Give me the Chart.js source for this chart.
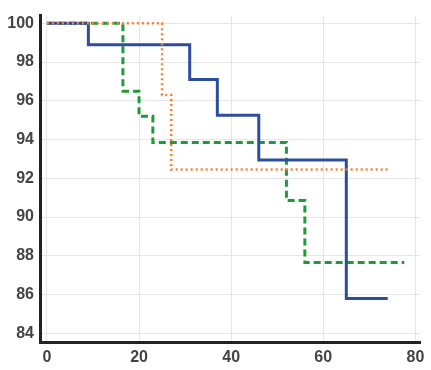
<!DOCTYPE html>
<html>
<head>
<meta charset="utf-8">
<script src="https://cdn.jsdelivr.net/npm/chart.js@4/dist/chart.umd.min.js"></script>
<style>
  html, body { margin: 0; padding: 0; background: #fff; }
  #wrap { width: 431px; height: 370px; }
</style>
</head>
<body>
<div id="wrap"><canvas id="myChart" width="431" height="370"></canvas></div>
<script>
// step curves
var blueX = [0, 9, 31, 37, 46, 65, 74];
var blueY = [100, 98.9, 97.1, 95.25, 92.95, 85.8, 85.8];
var greenX = [0, 16.5, 20, 23, 52, 56, 77.6];
var greenY = [100, 96.5, 95.2, 93.85, 90.85, 87.65, 87.65];
var orangeX = [0, 25, 27, 74];
var orangeY = [100, 96.3, 92.45, 92.45];

var xTicks = [0, 20, 40, 60, 80];
var yTicks = [84, 86, 88, 90, 92, 94, 96, 98, 100];

toPoints = (xs, ys) => xs.map((x, i) => ({ x: x, y: ys[i] }));

var ctx = document.getElementById("myChart").getContext("2d");
var chart = new Chart(ctx, {
  type: "line",
  data: {
    datasets: [
      {
        label: "orange",
        data: toPoints(orangeX, orangeY),
        borderColor: "#f0843c",
        borderWidth: 2.5,
        borderDash: [2, 3],
        stepped: "before",
        pointRadius: 0,
        fill: false
      },
      {
        label: "blue",
        data: toPoints(blueX, blueY),
        borderColor: "#2c4e9c",
        borderWidth: 3,
        stepped: "before",
        pointRadius: 0,
        fill: false
      },
      {
        label: "green",
        data: toPoints(greenX, greenY),
        borderColor: "#1f9a3a",
        borderWidth: 3,
        borderDash: [7, 4],
        stepped: "before",
        pointRadius: 0,
        fill: false
      }
    ]
  },
  options: {
    responsive: false,
    animation: false,
    layout: { padding: { top: 5, right: 11, left: 0, bottom: 0 } },
    plugins: { legend: { display: false }, tooltip: { enabled: false } },
    scales: {
      x: {
        type: "linear",
        min: -1.5,
        max: 81,
        afterBuildTicks: axis => { axis.ticks = xTicks.map(v => ({ value: v })); },
        afterFit: axis => { axis.height = 28; },
        grid: { color: "#e6e6e6", drawTicks: false },
        border: { color: "#222", width: 3 },
        ticks: { color: "#444", padding: 6, font: { family: "Liberation Sans", size: 16, weight: "bold" } }
      },
      y: {
        min: 83.55,
        max: 100.4,
        afterBuildTicks: axis => { axis.ticks = yTicks.map(v => ({ value: v })); },
        afterFit: axis => { axis.width = 40; },
        grid: { color: "#e6e6e6", drawTicks: false },
        border: { color: "#222", width: 3 },
        ticks: { color: "#444", padding: 6, font: { family: "Liberation Sans", size: 16, weight: "bold" } }
      }
    }
  }
});
</script>
</body>
</html>
